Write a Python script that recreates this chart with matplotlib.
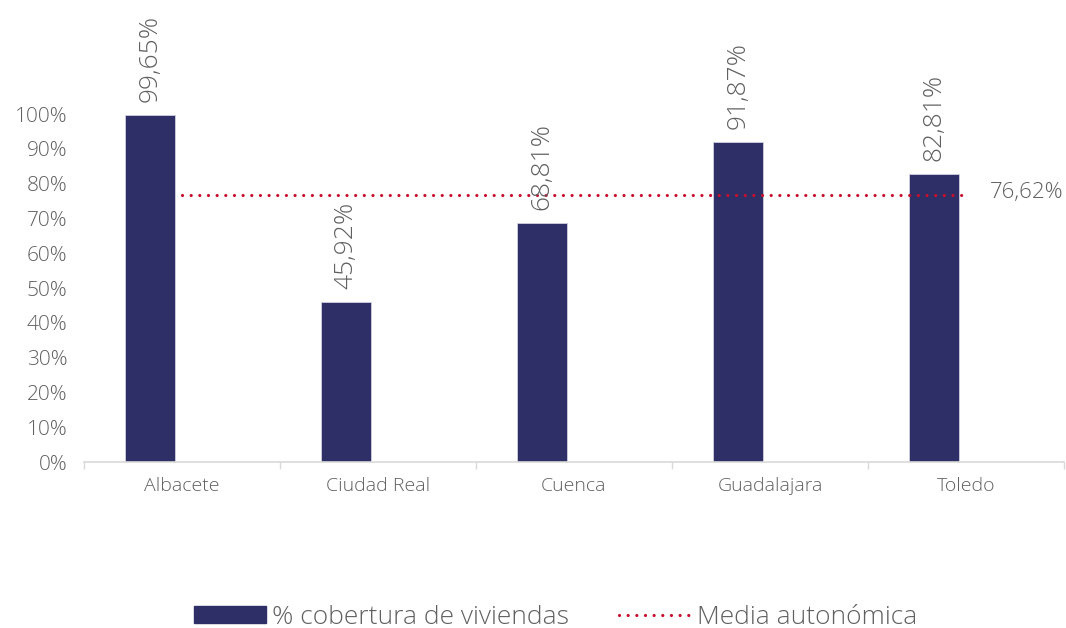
import matplotlib
matplotlib.use("Agg")
import matplotlib.pyplot as plt
import numpy as np
from matplotlib.patches import Patch
from matplotlib.lines import Line2D

categories = ["Albacete", "Ciudad Real", "Cuenca", "Guadalajara", "Toledo"]
cobertura = [99.65, 45.92, 68.81, 91.87, 82.81]
media = 76.62
cobertura_labels = ["99,65%", "45,92%", "68,81%", "91,87%", "82,81%"]
media_label = "76,62%"
yticks = [0, 10, 20, 30, 40, 50, 60, 70, 80, 90, 100]

plt.rcParams['font.family'] = ['Open Sans', 'DejaVu Sans']
plt.rcParams['font.weight'] = 'light'

W, H = 1066, 628
fig = plt.figure(figsize=(W/100, H/100), dpi=100)
ax = fig.add_axes([84/W, 1-462/H, (1064-84)/W, (462-114)/H])

bar_color = "#2F2F67"
red = "#C8102E"
gray = "#606060"

x = np.arange(len(categories))
off = -32/196
ax.bar(x + off, cobertura, width=50/196, color=bar_color, edgecolor="#d0d0e0", linewidth=0.6, zorder=2)

dot_style = (0, (0.01, 2.7))
ax.plot(x, [media]*len(x), color=red, linewidth=2.3, linestyle=dot_style,
        dash_capstyle='round', zorder=3)

for xi, v, lab in zip(x, cobertura, cobertura_labels):
    ax.annotate(lab, (xi + off, v), xytext=(0, 13), textcoords='offset pixels',
                rotation=90, ha='center', va='bottom', fontsize=19, color=gray, annotation_clip=False)

ax.annotate(media_label, (x[-1], media), xytext=(24, 3), textcoords='offset pixels',
            ha='left', va='center', fontsize=16, color=gray, annotation_clip=False)

ax.set_xlim(-0.5, len(categories) - 0.5)
ax.set_ylim(0, 100)
ax.set_yticks(yticks)
ax.set_yticklabels([f"{t}%" for t in yticks], fontsize=15, color=gray)
ax.tick_params(axis='y', length=0, pad=12)

ax.set_xticks(x)
ax.set_xticklabels(categories, fontsize=14, color=gray)
ax.tick_params(axis='x', which='major', length=0, pad=11)
ax.set_xticks(np.arange(-0.5, len(categories)), minor=True)
ax.tick_params(axis='x', which='minor', length=5, color="#d9d9d9", width=1)

for s in ['top', 'right', 'left']:
    ax.spines[s].set_visible(False)
ax.spines['bottom'].set_color("#d9d9d9")
ax.spines['bottom'].set_linewidth(1.2)

handles = [Patch(facecolor=bar_color, edgecolor=bar_color),
           Line2D([0], [0], color=red, linewidth=2.3, linestyle=dot_style, dash_capstyle='round')]
fig.legend(handles, ["% cobertura de viviendas", "Media autonómica"], loc='center',
           bbox_to_anchor=(556/W, 1-617/H), ncol=2, frameon=False, fontsize=19,
           labelcolor=gray, handlelength=2.7, handleheight=0.6, handletextpad=0.25, columnspacing=1.9)

fig.savefig("out.png", dpi=100)
